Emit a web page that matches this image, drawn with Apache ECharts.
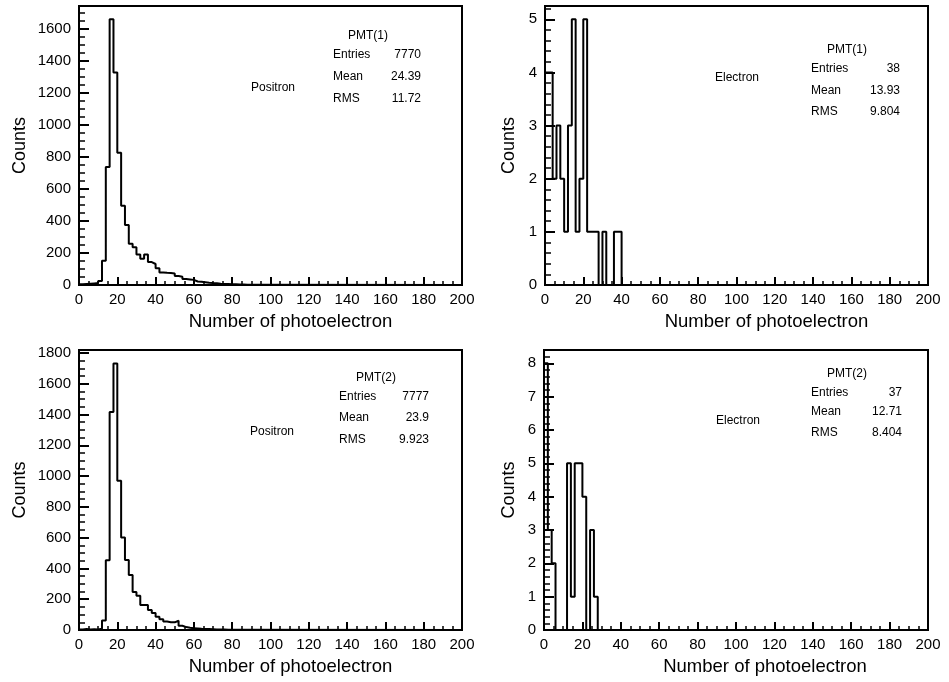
<!DOCTYPE html>
<html>
<head>
<meta charset="utf-8">
<style>
  html, body { margin: 0; padding: 0; background: #fff; }
  #chart { width: 949px; height: 682px; }
</style>
<script src="https://cdn.jsdelivr.net/npm/echarts@6/dist/echarts.min.js"></script>
</head>
<body>
<div id="chart"></div>
<script>
// ---- data (bin width 2, bins start at 0) ----
const binWidth = 2;
const xTickLabels = [0, 20, 40, 60, 80, 100, 120, 140, 160, 180, 200];
const pmt1Positron = [4, 6, 8, 10, 12, 25, 152, 737, 1658, 1326, 825, 495, 375, 258, 235, 190, 164, 190, 143, 131,
  104, 78, 76, 75, 72, 56, 52, 38, 35, 32, 22, 20, 17, 14, 12, 11, 8, 7, 6, 5, 4, 3, 3, 2, 2, 1, 1];
const pmt1Electron = [4, 4, 2, 3, 2, 1, 3, 5, 1, 2, 5, 1, 1, 1, 0, 1, 0, 0, 1, 1];
const pmt2Positron = [3, 6, 4, 5, 4, 8, 62, 453, 1417, 1732, 969, 601, 455, 358, 247, 222, 162, 162, 130, 110,
  86, 70, 55, 51, 50, 60, 28, 19, 14, 12, 10, 8, 7, 6, 5, 4, 3, 3, 2, 2, 1, 1];
const pmt2Electron = [8, 3, 2, 0, 0, 0, 5, 1, 5, 5, 4, 0, 3, 1];
const yMax = [1741, 5.25, 1819, 8.4];
const yInterval = [200, 1, 200, 1];
const yMinorSplit = [4, 5, 4, 5];
const statsPMT = ['PMT(1)', 'PMT(1)', 'PMT(2)', 'PMT(2)'];
const statsEntries = ['7770', '38', '7777', '37'];
const statsMean = ['24.39', '13.93', '23.9', '12.71'];
const statsRMS = ['11.72', '9.804', '9.923', '8.404'];
const particleLabels = ['Positron', 'Electron', 'Positron', 'Electron'];

const histograms = [pmt1Positron, pmt1Electron, pmt2Positron, pmt2Electron];

function toSteps(counts) {
  const pts = counts.map((v, i) => [i * binWidth, v]);
  pts.push([counts.length * binWidth, 0]);
  pts.push([200, 0]);
  return pts;
}

const FONT = "'Liberation Sans', Arial, Helvetica, sans-serif";

const grids = [
  { left: 79, top: 6, width: 383, height: 279 },
  { left: 545, top: 6, width: 383, height: 279 },
  { left: 79, top: 350, width: 383, height: 280 },
  { left: 544, top: 350, width: 384, height: 280 }
].map(g => Object.assign(g, { show: true, borderColor: '#000', borderWidth: 2, backgroundColor: 'transparent' }));

const yNameGap = [50, 27, 50, 26];
const xNameShift = [40, 60, 40, 58];

const xAxes = grids.map((g, i) => ({
  type: 'value', gridIndex: i, min: 0, max: 200, interval: 20,
  name: 'Number of photoelectron', nameLocation: 'middle', nameGap: 27,
  nameTextStyle: { fontFamily: FONT, fontSize: 18.5, color: '#000', padding: [0, 0, 0, xNameShift[i]] },
  axisLine: { show: true, lineStyle: { color: '#000', width: 2 } },
  axisTick: { show: true, inside: true, length: 8, lineStyle: { color: '#000', width: 2 } },
  minorTick: { show: true, splitNumber: 4, length: 4, lineStyle: { color: '#000', width: 1.5 } },
  axisLabel: { fontFamily: FONT, fontSize: 15, color: '#000', margin: 7,
    formatter: v => (xTickLabels.indexOf(v) >= 0 ? String(v) : '') },
  splitLine: { show: false }, minorSplitLine: { show: false }
}));

const yAxes = grids.map((g, i) => ({
  type: 'value', gridIndex: i, min: 0, max: yMax[i], interval: yInterval[i],
  name: 'Counts', nameLocation: 'middle', nameGap: yNameGap[i],
  nameTextStyle: { fontFamily: FONT, fontSize: 18, color: '#000' },
  axisLine: { show: true, lineStyle: { color: '#000', width: 2 } },
  axisTick: { show: true, inside: true, length: 10, lineStyle: { color: '#000', width: 2 } },
  minorTick: { show: true, splitNumber: yMinorSplit[i], length: 6, lineStyle: { color: '#000', width: 1.5 } },
  axisLabel: { fontFamily: FONT, fontSize: 15, color: '#000', margin: 8, showMaxLabel: false,
    formatter: v => (Math.abs(v / yInterval[i] - Math.round(v / yInterval[i])) < 1e-6 ? String(v) : '') },
  splitLine: { show: false }, minorSplitLine: { show: false }
}));

const series = histograms.map((h, i) => ({
  type: 'line', xAxisIndex: i, yAxisIndex: i, step: 'end', symbol: 'none',
  data: toSteps(h), lineStyle: { color: '#000', width: 2 }, silent: true, animation: false
}));

// stats text boxes
const statsLayout = [
  { pmtX: 368, pmtY: 36, labX: 333, valX: 421, y: [55, 77, 99], partX: 251, partY: 88 },
  { pmtX: 847, pmtY: 50, labX: 811, valX: 900, y: [69, 91, 112], partX: 715, partY: 78 },
  { pmtX: 376, pmtY: 378, labX: 339, valX: 429, y: [397, 418, 440], partX: 250, partY: 432 },
  { pmtX: 847, pmtY: 374, labX: 811, valX: 902, y: [393, 412, 433], partX: 716, partY: 421 }
];
const graphics = [];
function txt(text, x, y, align) {
  graphics.push({ type: 'text', x: x, y: y, silent: true,
    style: { text: text, fill: '#000', font: '12px ' + FONT, align: align, verticalAlign: 'middle' } });
}
statsLayout.forEach((L, i) => {
  txt(statsPMT[i], L.pmtX, L.pmtY, 'center');
  txt('Entries', L.labX, L.y[0], 'left');
  txt(statsEntries[i], L.valX, L.y[0], 'right');
  txt('Mean', L.labX, L.y[1], 'left');
  txt(statsMean[i], L.valX, L.y[1], 'right');
  txt('RMS', L.labX, L.y[2], 'left');
  txt(statsRMS[i], L.valX, L.y[2], 'right');
  txt(particleLabels[i], L.partX, L.partY, 'left');
});

const chart = echarts.init(document.getElementById('chart'), null, { renderer: 'canvas' });
chart.setOption({
  animation: false,
  backgroundColor: '#fff',
  grid: grids,
  xAxis: xAxes,
  yAxis: yAxes,
  series: series,
  graphic: graphics
});
</script>
</body>
</html>
